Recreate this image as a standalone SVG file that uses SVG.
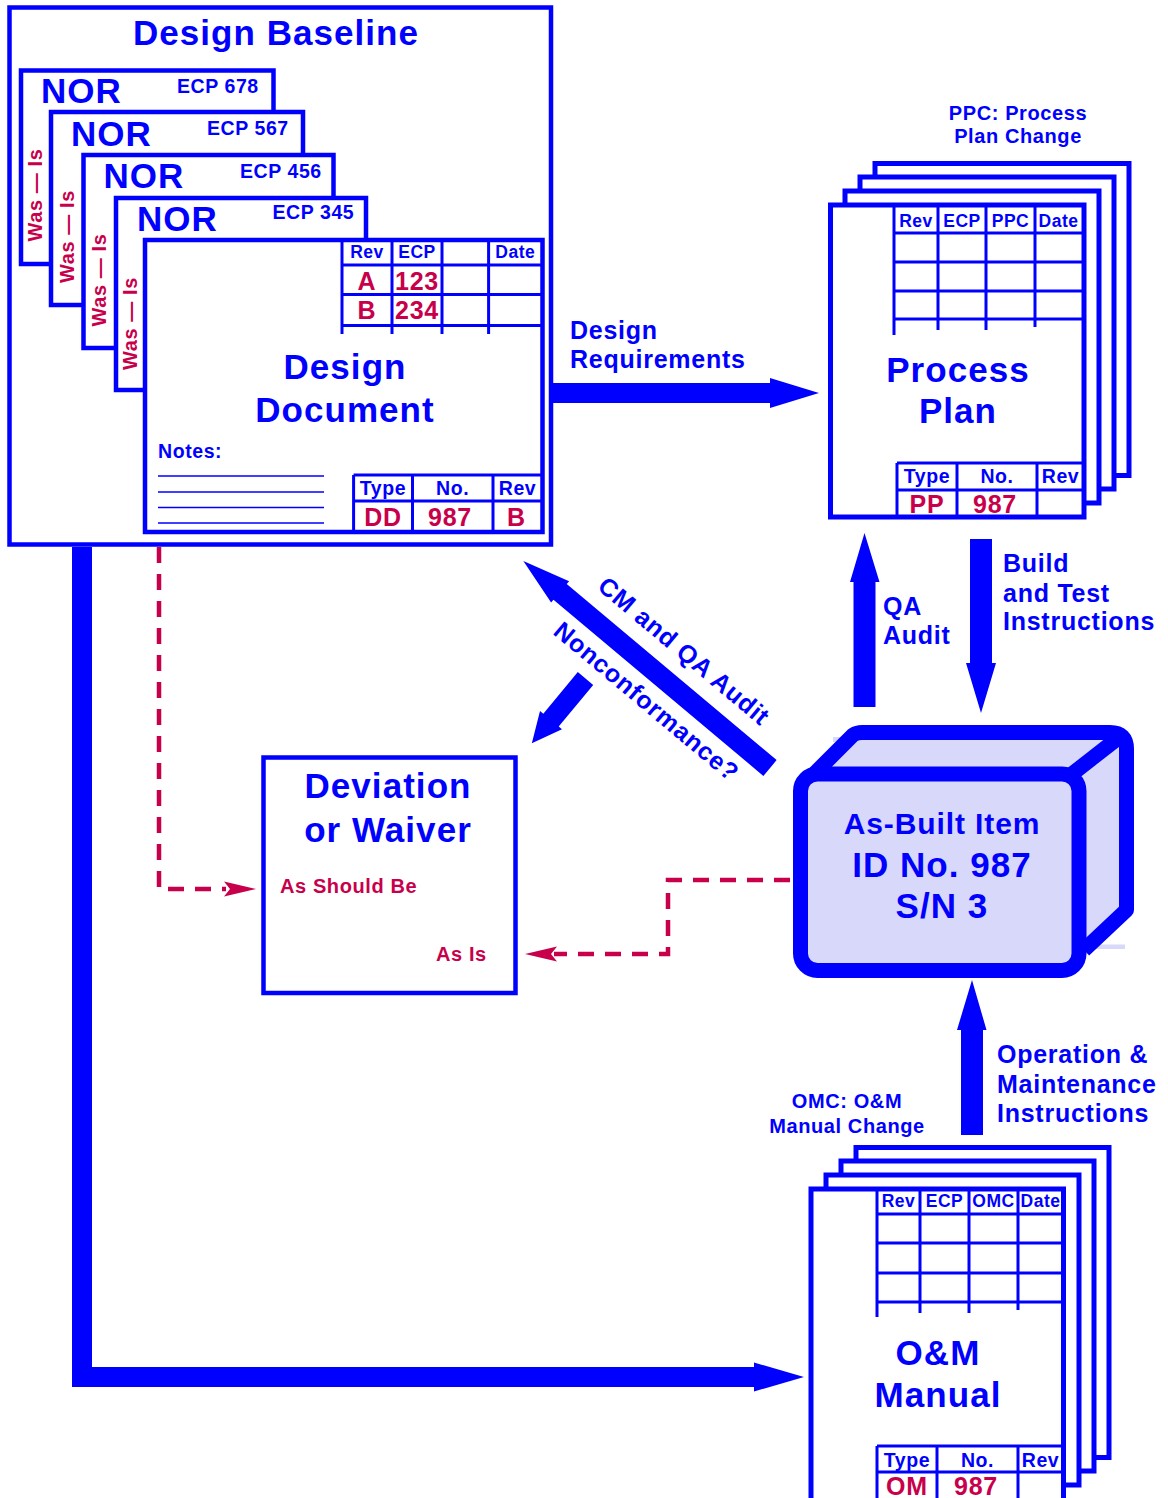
<svg xmlns="http://www.w3.org/2000/svg" width="1168" height="1498" viewBox="0 0 1168 1498">
<style>
.t{font-family:"Liberation Sans",Arial,Helvetica,sans-serif;font-weight:bold;fill:#0000ff;letter-spacing:0.03em}
.r{fill:#c8004b}
.m{text-anchor:middle}
.box{fill:#fff;stroke:#0000ff;stroke-width:4.5}
.sh{fill:#fff;stroke:#0000ff;stroke-width:5}
.ln{stroke:#0000ff;stroke-width:3;fill:none}
.thin{stroke:#0000ff;stroke-width:1.5;fill:none}
.arr{fill:#0000ff}
.dash{fill:none;stroke:#c8004b;stroke-width:4.5;stroke-dasharray:16 11}
.head{fill:#c8004b}
.lav{fill:#d8d8fa}
.s35{font-size:35px}.s25{font-size:25px}.s20{font-size:20px}.s195{font-size:19.5px}.s18{font-size:17.5px}.s30{font-size:30px}
</style>
<rect width="1168" height="1498" fill="#fff"/>

<g id="design-baseline">
<rect class="box" x="9.5" y="7.5" width="541.5" height="537"/>
<text class="t m s35" x="276" y="45">Design Baseline</text>
<g id="nor-678">
<rect class="box" x="21" y="70.5" width="252.5" height="193.5"/>
<text class="t s35" x="41" y="103">NOR</text>
<text class="t s195" x="177" y="93">ECP 678</text>
<text class="t r m s20" transform="translate(42 195) rotate(-90)">Was — Is</text>
</g>
<g id="nor-567">
<rect class="box" x="51" y="112" width="252" height="193"/>
<text class="t s35" x="71" y="146">NOR</text>
<text class="t s195" x="207" y="135">ECP 567</text>
<text class="t r m s20" transform="translate(74 236.5) rotate(-90)">Was — Is</text>
</g>
<g id="nor-456">
<rect class="box" x="83.5" y="155" width="250" height="193"/>
<text class="t s35" x="103.5" y="188">NOR</text>
<text class="t s195" x="240" y="178">ECP 456</text>
<text class="t r m s20" transform="translate(106 280) rotate(-90)">Was — Is</text>
</g>
<g id="nor-345">
<rect class="box" x="116" y="198" width="250" height="192"/>
<text class="t s35" x="137" y="231">NOR</text>
<text class="t s195" x="272.5" y="219">ECP 345</text>
<text class="t r m s20" transform="translate(137 323.5) rotate(-90)">Was — Is</text>
</g>
<g id="design-document">
<rect class="box" x="145" y="240" width="397.5" height="292"/>
<path class="ln" d="M342 240V334M392 240V334M442 240V334M488.6 240V334M342 265H542M342 294.5H542M342 325.5H542"/>
<text class="t m s18" x="367" y="258">Rev</text>
<text class="t m s18" x="417" y="258">ECP</text>
<text class="t m s18" x="515.3" y="258">Date</text>
<text class="t r m s25" x="367" y="290">A</text>
<text class="t r m s25" x="417" y="290">123</text>
<text class="t r m s25" x="367" y="319">B</text>
<text class="t r m s25" x="417" y="319">234</text>
<text class="t m s35" x="345" y="379">Design</text>
<text class="t m s35" x="345" y="422">Document</text>
<text class="t s195" x="158" y="458">Notes:</text>
<path class="thin" d="M158 476H324M158 492H324M158 507.5H324M158 523H324"/>
<path class="ln" d="M353.6 475V532M412.5 475V532M493 475V532M353.6 475H542M353.6 501H542"/>
<text class="t m s195" x="383" y="495">Type</text>
<text class="t m s195" x="452.7" y="495">No.</text>
<text class="t m s195" x="517.5" y="495">Rev</text>
<text class="t r m s25" x="383" y="526">DD</text>
<text class="t r m s25" x="450" y="526">987</text>
<text class="t r m s25" x="516.5" y="526">B</text>
</g>
</g>

<g id="process-plan">
<text class="t m s20" x="1018" y="120">PPC: Process</text>
<text class="t m s20" x="1018" y="143">Plan Change</text>
<rect class="sh" x="875" y="163.5" width="254" height="312"/>
<rect class="sh" x="860" y="177" width="254" height="312"/>
<rect class="sh" x="845" y="191" width="254" height="312"/>
<rect class="sh" x="830.5" y="205" width="253.5" height="312"/>
<path class="ln" d="M894 205V335M938 205V330M986 205V330M1035 205V327M894 233H1082M894 262H1082M894 291H1082M894 319H1082"/>
<text class="t m s18" x="916" y="227">Rev</text>
<text class="t m s18" x="962" y="227">ECP</text>
<text class="t m s18" x="1010.5" y="227">PPC</text>
<text class="t m s18" x="1058.5" y="227">Date</text>
<text class="t m s35" x="958" y="382">Process</text>
<text class="t m s35" x="958" y="423">Plan</text>
<path class="ln" d="M897 463V517M957 463V517M1037 463V517M897 463H1082M897 490H1082"/>
<text class="t m s195" x="927" y="483">Type</text>
<text class="t m s195" x="997" y="483">No.</text>
<text class="t m s195" x="1060.5" y="483">Rev</text>
<text class="t r m s25" x="927" y="513">PP</text>
<text class="t r m s25" x="995" y="513">987</text>
</g>

<g id="om-manual">
<text class="t m s20" x="847" y="1108">OMC: O&amp;M</text>
<text class="t m s20" x="847" y="1133">Manual Change</text>
<rect class="sh" x="856" y="1147.5" width="253" height="310"/>
<rect class="sh" x="841" y="1161" width="253" height="310"/>
<rect class="sh" x="826" y="1175" width="253" height="310"/>
<rect class="sh" x="811" y="1189" width="252.5" height="320"/>
<path class="ln" d="M877 1189V1317M920 1189V1313M969 1189V1313M1018 1189V1310M877 1214H1062M877 1243H1062M877 1273H1062M877 1302H1062"/>
<text class="t m s18" x="898.5" y="1207">Rev</text>
<text class="t m s18" x="944.5" y="1207">ECP</text>
<text class="t m s18" x="993.5" y="1207">OMC</text>
<text class="t m s18" x="1040.5" y="1207">Date</text>
<text class="t m s35" x="938" y="1365">O&amp;M</text>
<text class="t m s35" x="938" y="1407">Manual</text>
<path class="ln" d="M877 1446V1500M937 1446V1500M1018 1446V1500M877 1446H1062M877 1472H1062"/>
<text class="t m s195" x="907" y="1467">Type</text>
<text class="t m s195" x="977.5" y="1467">No.</text>
<text class="t m s195" x="1040.5" y="1467">Rev</text>
<text class="t r m s25" x="907" y="1495">OM</text>
<text class="t r m s25" x="976" y="1495">987</text>
</g>

<g id="deviation-waiver">
<rect class="box" x="263.5" y="757.5" width="252" height="235.5"/>
<text class="t m s35" x="388" y="798">Deviation</text>
<text class="t m s35" x="388" y="842">or Waiver</text>
<text class="t r s20" x="280" y="893">As Should Be</text>
<text class="t r s20" x="436" y="961">As Is</text>
</g>

<g id="as-built-item">
<rect class="lav" x="833" y="737" width="30" height="5"/>
<rect class="lav" x="1086" y="944.5" width="39" height="4.5"/>
<path class="lav" d="M810 778L853 735Q857 732.5 862 732.5L1110 732.5Q1126.5 732.5 1126.5 749L1126.5 910L1084 950Z"/>
<path d="M810 778L853 735Q857 732.5 862 732.5L1110 732.5Q1126.5 732.5 1126.5 749L1126.5 910L1084 950" fill="none" stroke="#0000ff" stroke-width="15" stroke-linejoin="round"/>
<path d="M1072 774L1122 735" fill="none" stroke="#0000ff" stroke-width="15"/>
<rect x="800.5" y="774" width="278.5" height="196.5" rx="17" fill="#d8d8fa" stroke="#0000ff" stroke-width="15"/>
<text class="t m s30" x="942" y="834">As-Built Item</text>
<text class="t m s35" x="942" y="877">ID No. 987</text>
<text class="t m s35" x="942" y="918">S/N 3</text>
</g>

<g id="connectors">
<polygon class="arr" points="553,383 770,383 770,378 819,393 770,408 770,403 553,403"/>
<text class="t s25" x="570" y="339">Design</text>
<text class="t s25" x="570" y="368">Requirements</text>
<polygon class="arr" points="853.5,707 853.5,582 850,582 864.5,533 879.5,582 875.5,582 875.5,707"/>
<text class="t s25" x="883" y="615">QA</text>
<text class="t s25" x="883" y="644">Audit</text>
<polygon class="arr" points="970,539 992,539 992,663 996,663 981,713 966,663 970,663"/>
<text class="t s25" x="1003" y="572">Build</text>
<text class="t s25" x="1003" y="602">and Test</text>
<text class="t s25" x="1003" y="630">Instructions</text>
<polygon class="arr" points="961,1135 961,1030 957,1030 972,980 986.5,1030 983,1030 983,1135"/>
<text class="t s25" x="997" y="1063">Operation &amp;</text>
<text class="t s25" x="997" y="1093">Maintenance</text>
<text class="t s25" x="997" y="1122">Instructions</text>
<polygon class="arr" points="72,547 92,547 92,1367 754,1367 754,1362.5 804,1377 754,1391.5 754,1387 72,1387"/>
<polygon class="arr" transform="translate(770 768) rotate(-140)" points="0,-10.3 274,-10.3 274,-14 322,0 274,14 274,10.3 0,10.3"/>
<text class="t m s25" transform="translate(678.5 657.6) rotate(40)">CM and QA Audit</text>
<text class="t m s25" transform="translate(641 708) rotate(40)">Nonconformance?</text>
<polygon class="arr" transform="translate(585.5 678.5) rotate(129.7)" points="0,-10 54,-10 54,-14.3 84,0 54,14.3 54,10 0,10"/>
<path class="dash" d="M159 547V889H226"/>
<polygon class="head" points="224,881.5 256,889 224,896.5 230,889"/>
<path class="dash" d="M790 880H668V954H554"/>
<polygon class="head" points="557,946.5 525,954 557,961.5 551,954"/>
</g>
</svg>
